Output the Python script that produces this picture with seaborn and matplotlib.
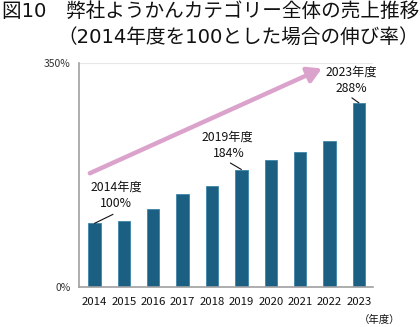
import matplotlib
matplotlib.use("Agg")
import matplotlib.pyplot as plt
import seaborn as sns
import pandas as pd

# Sales index per fiscal year (FY2014 = 100)
years = ["2014", "2015", "2016", "2017", "2018", "2019", "2020", "2021", "2022", "2023"]
growth = [100, 104, 122, 146, 159, 184, 199, 211, 229, 288]
ytick_values = [0, 350]
ytick_labels = ["0%", "350%"]
callout_years = ["2014", "2019", "2023"]

title_line1 = "図10　弊社ようかんカテゴリー全体の売上推移"
title_line2 = "（2014年度を100とした場合の伸び率）"
x_unit = "（年度）"

sns.set_theme(style="white")
plt.rcParams["font.family"] = ["Noto Sans CJK JP", "DejaVu Sans"]
# Title: Latin digits from DejaVu, Japanese glyphs from Noto
title_family = ["DejaVu Sans", "Noto Sans CJK JP"]

df = pd.DataFrame({"year": years, "growth": growth})

fig = plt.figure(figsize=(4.2, 3.27), dpi=100)
ax = fig.add_axes([0.188, 0.121, 0.700, 0.686])

bar_color = "#1b5f82"
sns.barplot(data=df, x="year", y="growth", ax=ax, color=bar_color,
            width=0.42, saturation=1, edgecolor="#3f86aa", linewidth=0.6)

ax.set_xlim(-0.53, 9.48)
ax.set_ylim(0, 350)
ax.set_yticks(ytick_values)
ax.set_yticklabels(ytick_labels, fontsize=7.5, color="#333333")
ax.tick_params(axis="x", labelsize=8.2, pad=7, length=0, colors="#111111")
ax.tick_params(axis="y", pad=6, length=0)
ax.set_xlabel("")
ax.set_ylabel("")
ax.yaxis.grid(True, color="#e6e6e6", linewidth=0.8)
ax.set_axisbelow(True)
for side in ("top", "right"):
    ax.spines[side].set_visible(False)
for side in ("left", "bottom"):
    ax.spines[side].set_color("#a0a0a0")
    ax.spines[side].set_linewidth(1.2)

# Decorative upward trend arrow
ax.annotate("", xy=(0.826, 0.976), xytext=(0.037, 0.509),
            xycoords="axes fraction", textcoords="axes fraction",
            arrowprops=dict(arrowstyle="-|>,head_length=0.55,head_width=0.32",
                            lw=3.2, color="#dba3cc", shrinkA=0, shrinkB=0,
                            mutation_scale=15))

# Callout offsets (pixels from bar top): year label, percent label, leader end
offsets = {
    "2014": ((21.5, 36), (21.5, 20), (18.5, 9)),
    "2019": ((-14, 32), (-13, 16.3), (-11, 6.5)),
    "2023": ((-8, 31), (-8, 14.4), (-7, 5)),
}
for yr in callout_years:
    i = years.index(yr)
    v = growth[i]
    (yx, yy), (px, py), (lx, ly) = offsets[yr]
    ax.annotate(f"{yr}年度", xy=(i, v), xytext=(yx, yy), textcoords="offset pixels",
                ha="center", va="center", fontsize=8.8, color="#111111")
    ax.annotate(f"{v}%", xy=(i, v), xytext=(px, py), textcoords="offset pixels",
                ha="center", va="center", fontsize=8.8, color="#111111")
    ax.annotate("", xy=(i, v), xytext=(lx, ly), textcoords="offset pixels",
                arrowprops=dict(arrowstyle="-", lw=0.8, color="#111111",
                                shrinkA=0, shrinkB=0))

fig.text(2 / 420, 1 - 11.5 / 327, title_line1, fontsize=14.1, ha="left", va="center",
         color="#111111", family=title_family)
fig.text(57 / 420, 1 - 37 / 327, title_line2, fontsize=14.1, ha="left", va="center",
         color="#111111", family=title_family)
fig.text(380 / 420, 1 - 320 / 327, x_unit, fontsize=7.5, ha="center", va="center",
         color="#111111")

fig.savefig("out.png", dpi=100)
